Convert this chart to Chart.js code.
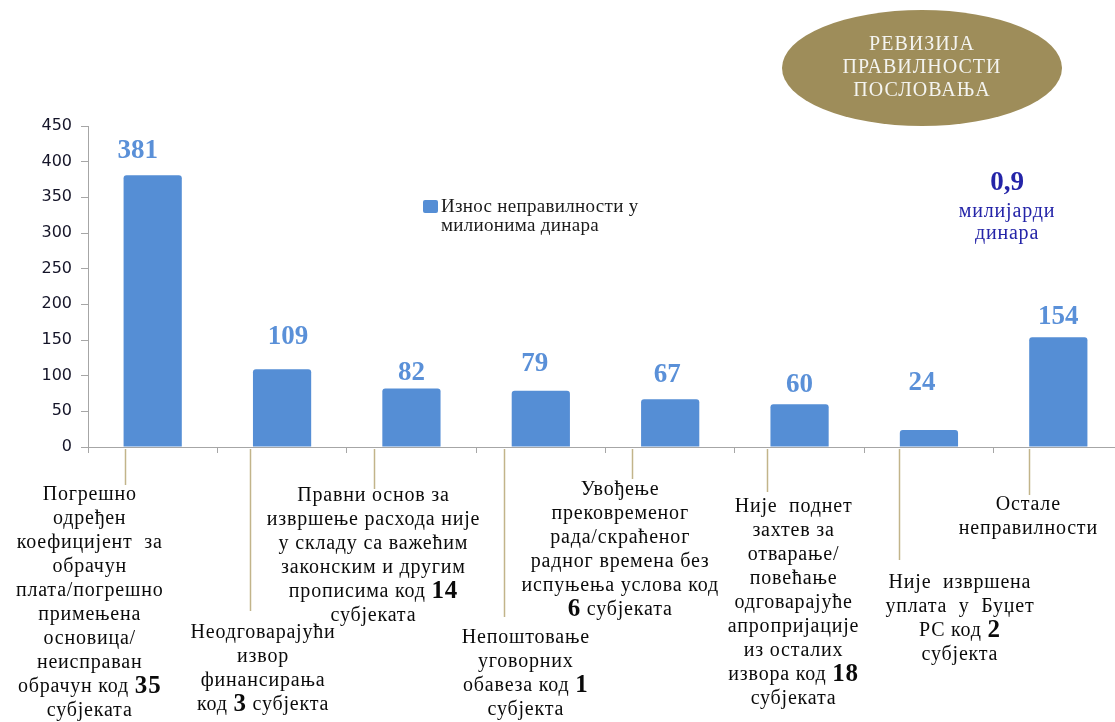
<!DOCTYPE html>
<html>
<head>
<meta charset="utf-8">
<script src="https://cdn.jsdelivr.net/npm/chart.js@4"></script>
<style>
  html, body { margin: 0; padding: 0; background: #fff; overflow: hidden; }
  #wrap { width: 1130px; height: 722px; }
</style>
</head>
<body>
<div id="wrap"><canvas id="chart" width="1130" height="722"></canvas></div>
<script>
// подаци
const seriesName = ['Износ неправилности у', 'милионима динара'];
const amounts = [381, 109, 82, 79, 67, 60, 24, 154];
const yTicks = [0, 50, 100, 150, 200, 250, 300, 350, 400, 450];
// ** ... ** = подебљан број
const categories = [
  ['Погрешно', 'одређен', 'коефицијент  за', 'обрачун', 'плата/погрешно', 'примењена', 'основица/', 'неисправан', 'обрачун код **35**', 'субјеката'],
  ['Неодговарајући', 'извор', 'финансирања', 'код **3** субјекта'],
  ['Правни основ за', 'извршење расхода није', 'у складу са важећим', 'законским и другим', 'прописима код **14**', 'субјеката'],
  ['Непоштовање', 'уговорних', 'обавеза код **1**', 'субјекта'],
  ['Увођење', 'прековременог', 'рада/скраћеног', 'радног времена без', 'испуњења услова код', '**6** субјеката'],
  ['Није  поднет', 'захтев за', 'отварање/', 'повећање', 'одговарајуће', 'апропријације', 'из осталих', 'извора код **18**', 'субјеката'],
  ['Није  извршена', 'уплата  у  Буџет', 'РС код **2**', 'субјекта'],
  ['Остале', 'неправилности']
];
const totalText = ['0,9', 'милијарди', 'динара'];
const badgeText = ['РЕВИЗИЈА', 'ПРАВИЛНОСТИ', 'ПОСЛОВАЊА'];

// распоред натписа испод осе (помаци у пикселима)
const lineDx = [-28, -32, -37, -37, -38, -33, -30, -29];
const lineLen = [36, 162, 40, 168, 30, 43, 111, 46];
const textDx = [-63, -19, -38, -15, -50, -6, 31, -30];
const textTop = [48, 186, 49, 191, 43, 60, 136, 58];
const valueNudge = [[-15, -2], [6, -10], [0, 7], [-6, -5], [-3, -2], [0, 3], [-7, -25], [0, 2]];

const BAR = '#558ED5';
const SERIF = '"Liberation Serif", "DejaVu Serif", serif';

function richLine(ctx, text, cx, cy, size, bsize) {
  const parts = text.split('**');
  const fonts = parts.map((p, i) => i % 2 ? `bold ${bsize}px ${SERIF}` : `${size}px ${SERIF}`);
  let w = 0;
  parts.forEach((p, i) => { ctx.font = fonts[i]; w += ctx.measureText(p).width; });
  let x = cx - w / 2;
  parts.forEach((p, i) => {
    ctx.font = fonts[i];
    ctx.fillText(p, x, cy);
    x += ctx.measureText(p).width;
  });
}

const annotations = {
  id: 'annotations',
  afterDraw(chart) {
    const { ctx, chartArea } = chart;
    const meta = chart.getDatasetMeta(0);
    const base = chartArea.bottom;
    ctx.save();
    ctx.textBaseline = 'middle';
    ctx.textAlign = 'left';

    // вредности изнад стубова
    ctx.fillStyle = '#5A90D8';
    ctx.letterSpacing = '0px';
    meta.data.forEach((bar, i) => {
      ctx.font = `bold 27px ${SERIF}`;
      const t = String(chart.data.datasets[0].data[i]);
      const w = ctx.measureText(t).width;
      ctx.fillText(t, bar.x + valueNudge[i][0] - w / 2, bar.y - 22 + valueNudge[i][1]);
    });

    // линије и натписи категорија
    chart.data.labels.forEach((lines, i) => {
      const cx = meta.data[i].x;
      const lx = Math.round(cx + lineDx[i]) + 0.5;
      ctx.strokeStyle = '#C2B48A';
      ctx.lineWidth = 1.5;
      ctx.beginPath();
      ctx.moveTo(lx, base + 2);
      ctx.lineTo(lx, base + 2 + lineLen[i]);
      ctx.stroke();

      ctx.fillStyle = '#0a0a0a';
      ctx.letterSpacing = '0.8px';
      lines.forEach((ln, j) => {
        richLine(ctx, ln, cx + textDx[i], base + textTop[i] + j * 24, 20, 25);
      });
    });

    // легенда
    ctx.letterSpacing = '0.3px';
    ctx.fillStyle = BAR;
    ctx.beginPath();
    ctx.roundRect(423, 200, 15, 13, 2);
    ctx.fill();
    ctx.fillStyle = '#1a1a1a';
    ctx.font = `19px ${SERIF}`;
    ctx.fillText(chart.data.datasets[0].label[0], 441, 207);
    ctx.fillText(chart.data.datasets[0].label[1], 441, 226);

    // укупан износ
    ctx.fillStyle = '#2424A8';
    ctx.letterSpacing = '0px';
    richLine(ctx, '**' + totalText[0] + '**', 1007, 183, 20, 27);
    ctx.letterSpacing = '0.8px';
    richLine(ctx, totalText[1], 1007, 212, 20, 20);
    richLine(ctx, totalText[2], 1007, 234, 20, 20);

    // елипса
    ctx.fillStyle = '#9E8D5A';
    ctx.beginPath();
    ctx.ellipse(922, 68, 140, 58, 0, 0, Math.PI * 2);
    ctx.fill();
    ctx.fillStyle = '#F4F4F0';
    ctx.letterSpacing = '1px';
    badgeText.forEach((t, j) => richLine(ctx, t, 922, 45 + j * 23, 20, 20));

    ctx.restore();
  }
};

new Chart(document.getElementById('chart'), {
  type: 'bar',
  data: {
    labels: categories,
    datasets: [{
      label: seriesName,
      data: amounts,
      backgroundColor: BAR,
      barPercentage: 0.45,
      categoryPercentage: 1,
      borderRadius: 3,
      borderSkipped: 'bottom'
    }]
  },
  options: {
    responsive: false,
    devicePixelRatio: 1,
    animation: false,
    layout: { padding: { top: 126, right: 7, left: 0, bottom: 0 } },
    plugins: {
      legend: { display: false },
      tooltip: { enabled: false }
    },
    scales: {
      x: {
        grid: { display: true, drawOnChartArea: false, offset: true, tickLength: 6, color: '#A6A6A6' },
        border: { color: '#A6A6A6' },
        ticks: { display: false },
        afterFit: s => { s.height = 275; }
      },
      y: {
        min: yTicks[0],
        max: yTicks[yTicks.length - 1],
        afterBuildTicks: s => { s.ticks = yTicks.map(v => ({ value: v })); },
        ticks: { font: { family: 'DejaVu Sans', size: 16 }, color: '#141428', padding: 9 },
        grid: { drawOnChartArea: false, tickLength: 7, color: '#A6A6A6' },
        border: { color: '#A6A6A6' },
        afterFit: s => { s.width = 88; }
      }
    }
  },
  plugins: [annotations]
});
</script>
</body>
</html>
